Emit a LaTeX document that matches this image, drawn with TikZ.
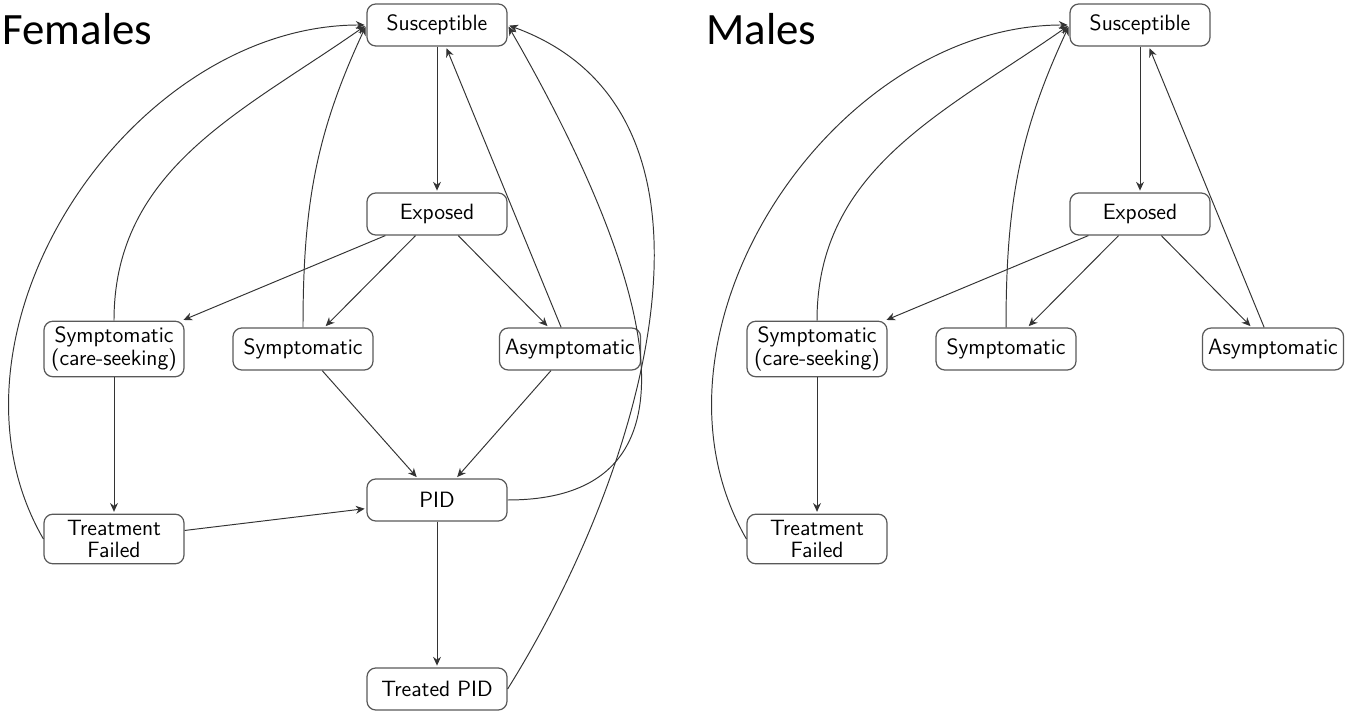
\documentclass[tikz,border=0pt]{standalone}
\usepackage{fontspec}
\newfontfamily\titlefont{Carlito}
\usetikzlibrary{arrows.meta}

\begin{document}
\begin{tikzpicture}[>={Stealth[length=5pt,width=4.5pt]}, shorten >=1pt, line width=0.55pt,
  compartment/.style={rectangle,rounded corners=5pt,draw=black!65,line width=0.7pt,minimum width=2.8cm,minimum height=0.84cm,inner sep=3.3pt,align=center},
  heading/.style={anchor=base west,inner sep=0pt,font=\titlefont\fontsize{25.5}{30}\selectfont}]
\useasboundingbox (0,0) rectangle (27,14.3);
\node [heading](ftitle) at (0.04,13.4) {Females};
\node [heading](mtitle) at (14.12,13.4) {Males};
\begin{scope}[every node/.style={font=\sffamily\fontsize{12.6}{12.8}\selectfont}]
% females
\node [compartment](sus) at (8.74,13.8) {Susceptible};
\node [compartment](exp) at (8.74,10.02) {Exposed};
\node [compartment](csk) at (2.28,7.32) {Symptomatic\\(care-seeking)};
\node [compartment](sym) at (6.06,7.32) {Symptomatic};
\node [compartment](asy) at (11.40,7.32) {Asymptomatic};
\node [compartment](pid) at (8.74,4.30) {PID};
\node [compartment](tf) at (2.28,3.52) {Treatment\\Failed};
\node [compartment](tpid) at (8.74,0.52) {Treated PID};
% males
\node [compartment](msus) at (22.80,13.8) {Susceptible};
\node [compartment](mexp) at (22.80,10.02) {Exposed};
\node [compartment](mcsk) at (16.34,7.32) {Symptomatic\\(care-seeking)};
\node [compartment](msym) at (20.12,7.32) {Symptomatic};
\node [compartment](masy) at (25.46,7.32) {Asymptomatic};
\node [compartment](mtf) at (16.34,3.52) {Treatment\\Failed};
\end{scope}
\path[->, black!80]
	(sus) edge (exp)
	(exp) edge (csk)
	      edge (sym)
	      edge (asy)
	(asy) edge (sus)
	      edge (pid)
	(sym) edge (pid)
	(csk) edge (tf)
	(tf) edge (pid)
	(pid) edge (tpid)
	(sym.north) edge[out=90,in=245] (sus.west)
	(csk.north) edge[out=90,in=215] (sus.west)
	(tf.west) edge[out=120,in=180] (sus.west)
	(pid.east) edge[out=0,in=-60,looseness=1.25] (sus.east)
	(tpid.east) edge[out=58,in=-20] (sus.east)
	;
\path[->, black!80]
	(msus) edge (mexp)
	(mexp) edge (mcsk)
	       edge (msym)
	       edge (masy)
	(masy) edge (msus)
	(mcsk) edge (mtf)
	(msym.north) edge[out=90,in=245] (msus.west)
	(mcsk.north) edge[out=90,in=215] (msus.west)
	(mtf.west) edge[out=120,in=180] (msus.west)
	;
\end{tikzpicture}
\end{document}
